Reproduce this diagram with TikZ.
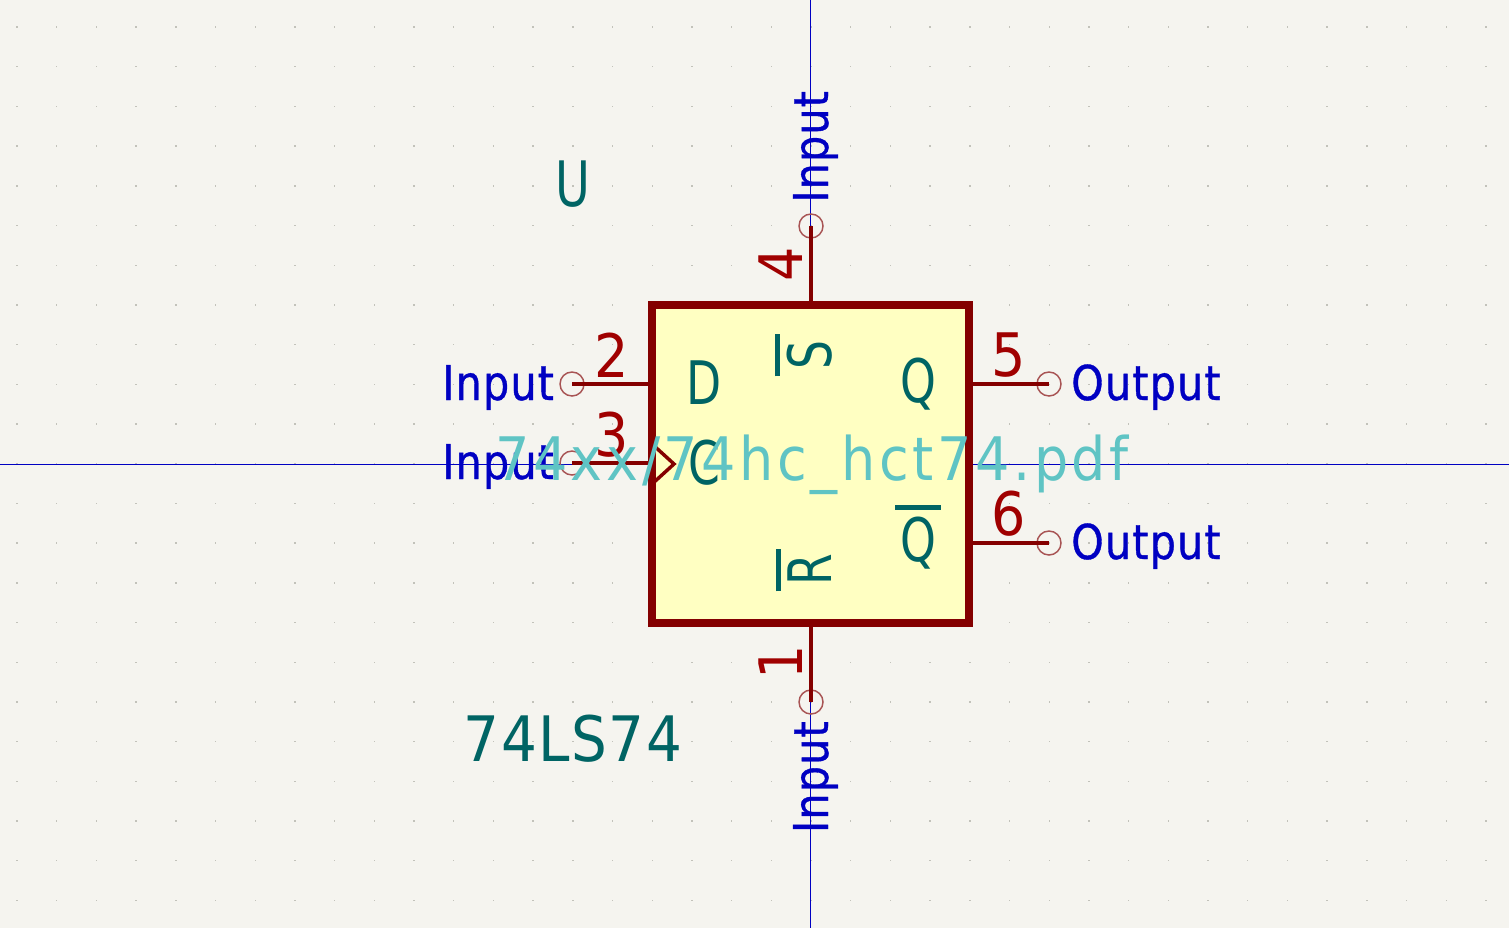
\documentclass[tikz,border=0pt]{standalone}
\usepackage{fontspec}
\setmainfont[FakeStretch=0.9]{DejaVu Sans}
\newfontfamily\capsfont[FakeStretch=0.76]{DejaVu Sans}
\newfontfamily\namefont[FakeStretch=0.86,FakeBold=0.7,LetterSpace=2.5]{DejaVu Sans}
\newfontfamily\valfont[FakeStretch=0.9,LetterSpace=2.5]{DejaVu Sans}
\newfontfamily\docfont[FakeStretch=0.9,LetterSpace=6]{DejaVu Sans}
\usetikzlibrary{positioning}
\definecolor{sheetbg}{HTML}{F5F4EF}
\definecolor{griddot}{HTML}{C2C2BA}
\definecolor{axisblue}{HTML}{0000C2}
\definecolor{wirered}{HTML}{840000}
\definecolor{numred}{HTML}{A00000}
\definecolor{bodyfill}{HTML}{FFFFC2}
\definecolor{labelteal}{HTML}{006464}
\definecolor{circred}{HTML}{A85454}
\definecolor{doccyan}{HTML}{5FC4C4}
\newcommand{\barred}[2]{\hbox{\vbox{\hrule height 3.5pt width #1\kern 5.5pt\hbox to #1{\hss #2\hss}}}}
\begin{document}
\begin{tikzpicture}[x=0.75pt, y=-0.75pt,
  body/.style={draw=wirered, line width=6pt, fill=bodyfill, minimum width=237.75pt, minimum height=238.5pt, inner sep=0pt, outer sep=0pt, line join=miter},
  pinend/.style={circle, draw=circred, line width=1.1pt, minimum size=18pt, inner sep=0pt},
  wire/.style={wirered, line width=3.4pt},
  num/.style={numred, font=\fontsize{45}{50}\selectfont, inner sep=0pt},
  lab/.style={labelteal, font=\capsfont\fontsize{45}{50}\selectfont, inner sep=0pt},
  pname/.style={axisblue, font=\namefont\fontsize{36}{40}\selectfont, inner sep=0pt},
  ref/.style={labelteal, font=\capsfont\fontsize{47}{52}\selectfont, inner sep=0pt},
  val/.style={labelteal, font=\valfont\fontsize{47}{52}\selectfont, inner sep=0pt},
  doc/.style={doccyan, font=\docfont\fontsize{45}{50}\selectfont, inner sep=0pt}]
\useasboundingbox (0,0) rectangle (1509,928);
\fill[sheetbg] (0,0) rectangle (1509,928);
% grid
\foreach \i in {0,...,37}
  \foreach \j in {0,...,22}
    \fill[griddot] ({17+39.7*\i-0.7},{27+39.7*\j-0.7}) rectangle ++(1.4,1.4);
% axes
\draw[axisblue, line width=0.75pt] (810.5,0) -- (810.5,928);
\draw[axisblue, line width=0.75pt] (0,464) -- (1509,464);
% symbol body
\node[body] (chip) at (810.5,464) {};
% pin ends
\node[pinend] (p2) at (572,384) {};
\node[pinend] (p3) at (572,463) {};
\node[pinend] (p4) at (811,226) {};
\node[pinend] (p1) at (811,702) {};
\node[pinend] (p5) at (1049,384) {};
\node[pinend] (p6) at (1049,543) {};
\draw[wire] (p2.center) -- (p2 -| chip.west);
\draw[wire] (p3.center) -- (p3 -| chip.west);
\draw[wire] (p5.center) -- (p5 -| chip.east);
\draw[wire] (p6.center) -- (p6 -| chip.east);
\draw[wire] (p4.center) -- (p4 |- chip.north);
\draw[wire] (p1.center) -- (p1 |- chip.south);
% clock mark
\coordinate (clktop) at (652,444);
\coordinate (clktip) at (674,464);
\coordinate (clkbot) at (652,484);
\draw[wirered, line width=2.6pt, miter limit=4] (clktop) -- (clktip) -- (clkbot);
% pin numbers
\node[num] (n2) at (612,355) {2};
\node[num] (n3) at (612,435) {3};
\node[num] (n5) at (1009,355) {5};
\node[num] (n6) at (1009,514) {6};
\node[num, rotate=90] (n4) at (781,264) {4};
\node[num, rotate=90] (n1) at (781,662) {1};
% pin names
\node[pname, anchor=base west] (in2) at (442,400) {Input};
\node[pname, anchor=base west] (in3) at (442,479) {Input};
\node[pname, anchor=base west] (out5) at (1071,400) {Output};
\node[pname, anchor=base west] (out6) at (1071,559) {Output};
\node[pname, rotate=90, anchor=base west] (in4) at (828,203) {Input};
\node[pname, rotate=90, anchor=base east] (in1) at (828,721) {Input};
% inner labels
\node[lab] (ld) at (704,383) {D};
\node[lab] (lc) at (704,463) {C};
\node[lab] (lq) at (918,384) {Q};
\node[lab] (lnq) at (918,537) {\barred{34.5pt}{Q}};
\node[lab, rotate=90] (ls) at (804,355) {\barred{32pt}{S}};
\node[lab, rotate=90] (lr) at (804,570) {\barred{32pt}{R}};
% fields
\node[ref] (uref) at (573,184) {U};
\node[val] (uval) at (573,739) {74LS74};
\node[doc] (udoc) at (812,465) {74xx/74hc\_hct74.pdf};
\end{tikzpicture}
\end{document}
